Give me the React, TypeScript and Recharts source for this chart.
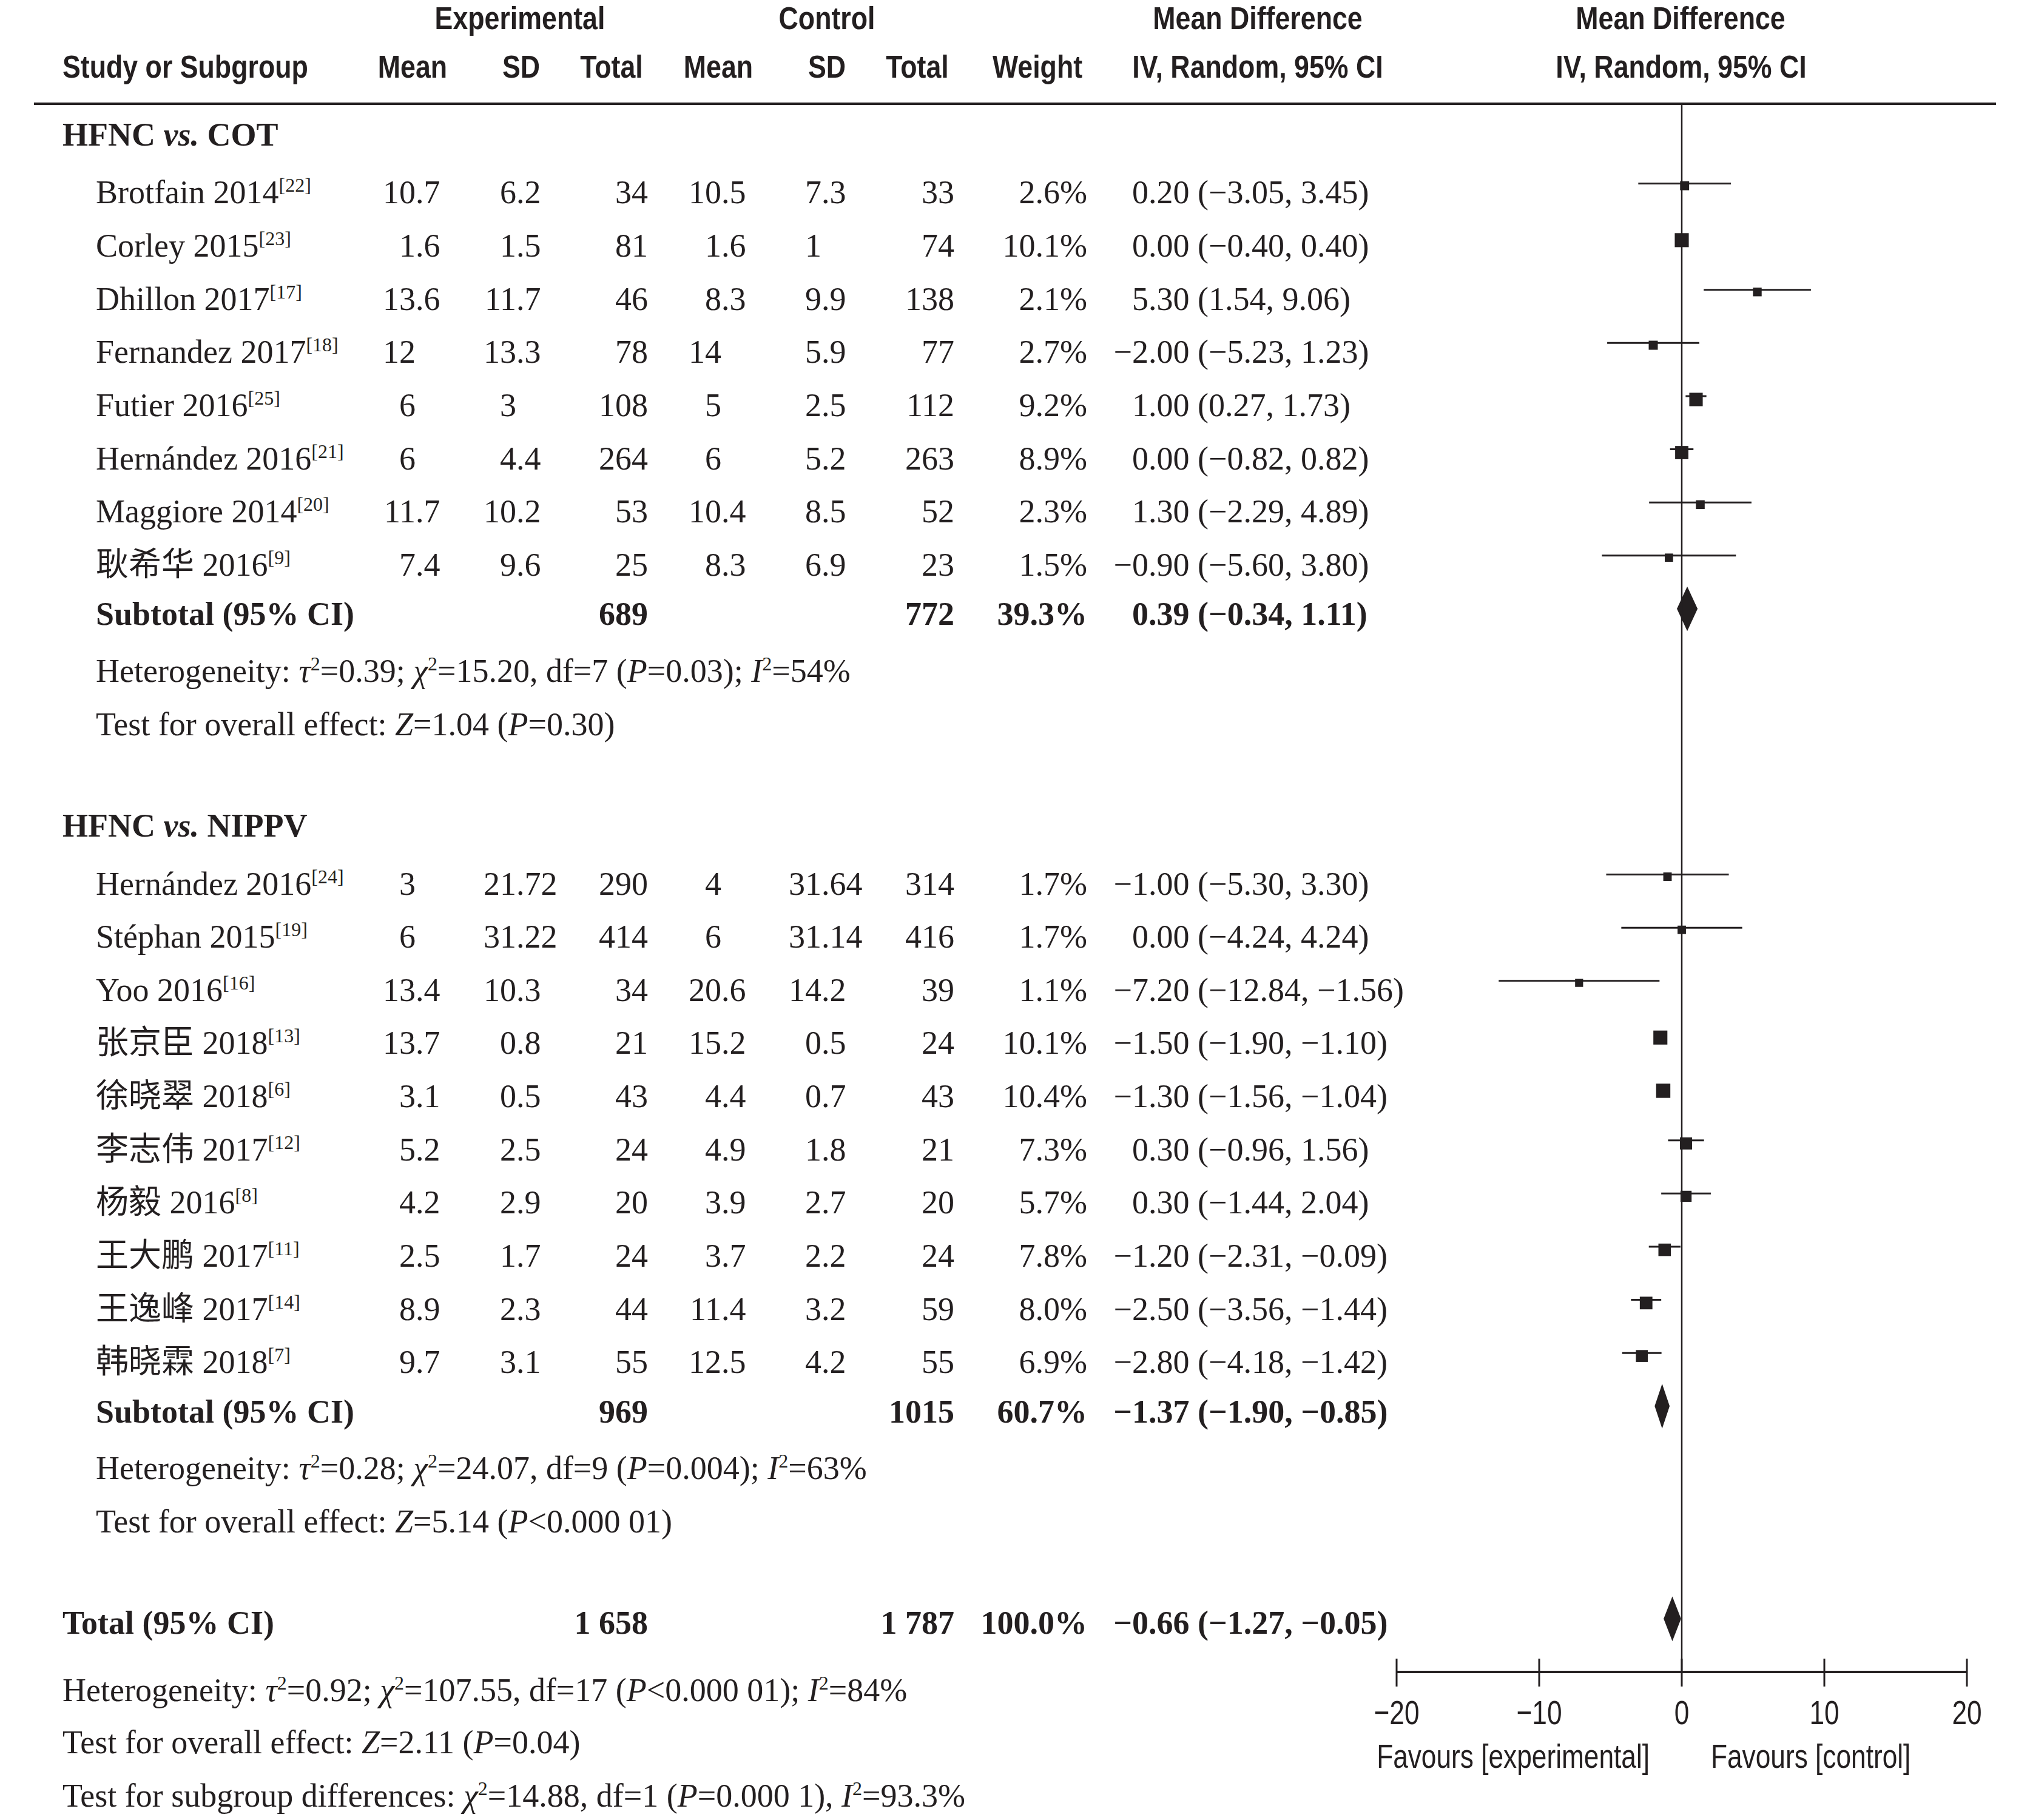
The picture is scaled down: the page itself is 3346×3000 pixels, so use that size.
import React from "react";
import { ComposedChart, Scatter, XAxis, YAxis, ErrorBar, ReferenceLine, ReferenceArea } from "recharts";

// ---- data ----
const subgroupLabels = ["COT", "NIPPV"];
const subgroupSizes = [8, 10];

const studyNames = [
   "Brotfain 2014", "Corley 2015", "Dhillon 2017", "Fernandez 2017", "Futier 2016", "Hernández 2016", "Maggiore 2014", "耿希华 2016",
   "Hernández 2016", "Stéphan 2015", "Yoo 2016", "张京臣 2018", "徐晓翠 2018", "李志伟 2017", "杨毅 2016", "王大鹏 2017", "王逸峰 2017", "韩晓霖 2018",
];
const studyRefs = [22, 23, 17, 18, 25, 21, 20, 9, 24, 19, 16, 13, 6, 12, 8, 11, 14, 7];
const expMean = [10.7, 1.6, 13.6, 12, 6, 6, 11.7, 7.4, 3, 6, 13.4, 13.7, 3.1, 5.2, 4.2, 2.5, 8.9, 9.7];
const expSD = [6.2, 1.5, 11.7, 13.3, 3, 4.4, 10.2, 9.6, 21.72, 31.22, 10.3, 0.8, 0.5, 2.5, 2.9, 1.7, 2.3, 3.1];
const expTotal = [34, 81, 46, 78, 108, 264, 53, 25, 290, 414, 34, 21, 43, 24, 20, 24, 44, 55];
const ctrlMean = [10.5, 1.6, 8.3, 14, 5, 6, 10.4, 8.3, 4, 6, 20.6, 15.2, 4.4, 4.9, 3.9, 3.7, 11.4, 12.5];
const ctrlSD = [7.3, 1, 9.9, 5.9, 2.5, 5.2, 8.5, 6.9, 31.64, 31.14, 14.2, 0.5, 0.7, 1.8, 2.7, 2.2, 3.2, 4.2];
const ctrlTotal = [33, 74, 138, 77, 112, 263, 52, 23, 314, 416, 39, 24, 43, 21, 20, 24, 59, 55];
const weights = [2.6, 10.1, 2.1, 2.7, 9.2, 8.9, 2.3, 1.5, 1.7, 1.7, 1.1, 10.1, 10.4, 7.3, 5.7, 7.8, 8.0, 6.9];
const meanDiff = [0.2, 0, 5.3, -2, 1, 0, 1.3, -0.9, -1, 0, -7.2, -1.5, -1.3, 0.3, 0.3, -1.2, -2.5, -2.8];
const ciLow = [-3.05, -0.4, 1.54, -5.23, 0.27, -0.82, -2.29, -5.6, -5.3, -4.24, -12.84, -1.9, -1.56, -0.96, -1.44, -2.31, -3.56, -4.18];
const ciHigh = [3.45, 0.4, 9.06, 1.23, 1.73, 0.82, 4.89, 3.8, 3.3, 4.24, -1.56, -1.1, -1.04, 1.56, 2.04, -0.09, -1.44, -1.42];

// pooled: [COT subtotal, NIPPV subtotal, overall]
const pooledExpTotal = [689, 969, 1658];
const pooledCtrlTotal = [772, 1015, 1787];
const pooledWeight = [39.3, 60.7, 100];
const pooledMD = [0.39, -1.37, -0.66];
const pooledLow = [-0.34, -1.9, -1.27];
const pooledHigh = [1.11, -0.85, -0.05];

const hetTau2 = ["0.39", "0.28", "0.92"];
const hetChi2 = ["15.20", "24.07", "107.55"];
const hetDf = [7, 9, 17];
const hetP = ["=0.03", "=0.004", "<0.000 01"];
const hetI2 = [54, 63, 84];
const effectZ = ["1.04", "5.14", "2.11"];
const effectP = ["=0.30", "<0.000 01", "=0.04"];
const subDiff = { chi2: "14.88", df: 1, p: "=0.000 1", i2: "93.3" };

const xTicks = [-20, -10, 0, 10, 20];

// ---- styling ----
const INK = "#231f20";
const SERIF = "'Liberation Serif', 'Noto Sans CJK SC', serif";
const SANS = "'Liberation Sans', Arial, sans-serif";
const BODY = 54;
const SUP = 32;
const RAISE = 19;

type Row = { kind: "section" | "study" | "subtotal" | "het" | "test" | "blank" | "total"; g?: number; i?: number };

const rows: Row[] = [];
let si = 0;
subgroupLabels.forEach((_, g) => {
   rows.push({ kind: "section", g });
   for (let k = 0; k < subgroupSizes[g]; k++) rows.push({ kind: "study", i: si++ });
   rows.push({ kind: "subtotal", g });
   rows.push({ kind: "het", g });
   rows.push({ kind: "test", g });
   rows.push({ kind: "blank" });
});
rows.push({ kind: "total", g: 2 });
const rowTicks = rows.map((_, r) => r);

const studyPoints = rows
   .map((row, r) => ({ row, r }))
   .filter((d) => d.row.kind === "study")
   .map(({ row, r }) => {
      const i = row.i as number;
      return { row: r, md: meanDiff[i], err: [meanDiff[i] - ciLow[i], ciHigh[i] - meanDiff[i]], w: weights[i] };
   });

const pooledRows = rows
   .map((row, r) => ({ row, r }))
   .filter((d) => d.row.kind === "subtotal" || d.row.kind === "total")
   .map(({ row, r }) => ({ r, g: row.g as number }));

const minus = (v: number) => (v < 0 ? "−" : "");
const fmt2 = (v: number) => minus(v) + Math.abs(v).toFixed(2);
const grouped = (n: number) => String(n).replace(/\B(?=(\d{3})+(?!\d))/g, " ");

function T({ x, y, anchor = "start", size = BODY, family = SERIF, bold = false, sx = 1, children }: any) {
   return (
      <text
         transform={`translate(${x} ${y}) scale(${sx} 1)`}
         textAnchor={anchor}
         fontSize={size}
         fontFamily={family}
         fontWeight={bold ? "bold" : "normal"}
         fill={INK}
      >
         {children}
      </text>
   );
}

function Dec({ x, y, v }: { x: number; y: number; v: number }) {
   const [a, b] = String(v).split(".");
   return (
      <>
         <T x={x} y={y} anchor="end">{a}</T>
         {b !== undefined && <T x={x} y={y}>.{b}</T>}
      </>
   );
}

function MD({ y, md, lo, hi, bold = false }: any) {
   const txt = fmt2(md) + " (" + fmt2(lo) + ", " + fmt2(hi) + ")";
   const body = md < 0 ? txt.slice(1) : txt;
   return (
      <>
         {md < 0 && <T x={1866} y={y} anchor="end" bold={bold}>−</T>}
         <T x={1866} y={y} bold={bold}>{body}</T>
      </>
   );
}

type Seg = { t: string; it?: boolean; sup?: boolean };

function Segs({ x, y, segs }: { x: number; y: number; segs: Seg[] }) {
   let raised = false;
   return (
      <text x={x} y={y} fontSize={BODY} fontFamily={SERIF} fill={INK}>
         {segs.map((s, k) => {
            let dy = 0;
            if (s.sup && !raised) {
               dy = -RAISE;
               raised = true;
            } else if (!s.sup && raised) {
               dy = RAISE;
               raised = false;
            }
            return (
               <tspan key={k} dy={dy || undefined} fontSize={s.sup ? SUP : undefined} fontStyle={s.it ? "italic" : undefined}>
                  {s.t}
               </tspan>
            );
         })}
      </text>
   );
}

const hetSegs = (g: number): Seg[] => [
   { t: "Heterogeneity: " },
   { t: "τ", it: true },
   { t: "2", sup: true },
   { t: `=${hetTau2[g]}; ` },
   { t: "χ", it: true },
   { t: "2", sup: true },
   { t: `=${hetChi2[g]}, df=${hetDf[g]} (` },
   { t: "P", it: true },
   { t: `${hetP[g]}); ` },
   { t: "I", it: true },
   { t: "2", sup: true },
   { t: `=${hetI2[g]}%` },
];

const effectSegs = (g: number): Seg[] => [
   { t: "Test for overall effect: " },
   { t: "Z", it: true },
   { t: `=${effectZ[g]} (` },
   { t: "P", it: true },
   { t: `${effectP[g]})` },
];

const subDiffSegs: Seg[] = [
   { t: "Test for subgroup differences: " },
   { t: "χ", it: true },
   { t: "2", sup: true },
   { t: `=${subDiff.chi2}, df=${subDiff.df} (` },
   { t: "P", it: true },
   { t: `${subDiff.p}), ` },
   { t: "I", it: true },
   { t: "2", sup: true },
   { t: `=${subDiff.i2}%` },
];

// whole table row, drawn at the y of the row's tick
function RowTick(props: any) {
   const r = props.payload?.value as number;
   const row = rows[r];
   const yb = props.y + 33;
   if (!row) return <g />;
   switch (row.kind) {
      case "section":
         return (
            <text x={103} y={yb - 8} fontSize={BODY} fontFamily={SERIF} fontWeight="bold" fill={INK}>
               HFNC <tspan fontStyle="italic">vs.</tspan> {subgroupLabels[row.g as number]}
            </text>
         );
      case "study": {
         const i = row.i as number;
         return (
            <g>
               <text x={158} y={yb} fontSize={BODY} fontFamily={SERIF} fill={INK}>
                  {studyNames[i]}
                  <tspan dy={-RAISE} fontSize={SUP}>[{studyRefs[i]}]</tspan>
               </text>
               <Dec x={685} y={yb} v={expMean[i]} />
               <Dec x={851} y={yb} v={expSD[i]} />
               <T x={1068} y={yb} anchor="end">{expTotal[i]}</T>
               <Dec x={1189} y={yb} v={ctrlMean[i]} />
               <Dec x={1354} y={yb} v={ctrlSD[i]} />
               <T x={1573} y={yb} anchor="end">{ctrlTotal[i]}</T>
               <T x={1792} y={yb} anchor="end">{weights[i].toFixed(1)}%</T>
               <MD y={yb} md={meanDiff[i]} lo={ciLow[i]} hi={ciHigh[i]} />
            </g>
         );
      }
      case "subtotal":
      case "total": {
         const g = row.g as number;
         const isTotal = row.kind === "total";
         const y = isTotal ? yb - 8 : yb - 6;
         return (
            <g>
               <T x={isTotal ? 103 : 158} y={y} bold>{isTotal ? "Total (95% CI)" : "Subtotal (95% CI)"}</T>
               <T x={1068} y={y} anchor="end" bold>{isTotal ? grouped(pooledExpTotal[g]) : pooledExpTotal[g]}</T>
               <T x={1573} y={y} anchor="end" bold>{isTotal ? grouped(pooledCtrlTotal[g]) : pooledCtrlTotal[g]}</T>
               <T x={1792} y={y} anchor="end" bold>{pooledWeight[g].toFixed(1)}%</T>
               <MD y={y} md={pooledMD[g]} lo={pooledLow[g]} hi={pooledHigh[g]} bold />
            </g>
         );
      }
      case "het":
         return <Segs x={158} y={yb} segs={hetSegs(row.g as number)} />;
      case "test":
         return <Segs x={158} y={yb} segs={effectSegs(row.g as number)} />;
      default:
         return <g />;
   }
}

function AxisTick(props: any) {
   const v = props.payload?.value as number;
   return (
      <g>
         <line x1={props.x} x2={props.x} y1={props.y - 22} y2={props.y + 24} stroke={INK} strokeWidth={3} />
         <T x={props.x} y={props.y + 86} anchor="middle" size={56} family={SANS} sx={0.79}>
            {minus(v) + Math.abs(v)}
         </T>
      </g>
   );
}

function Square(props: any) {
   const w = props.payload?.w ?? props.w ?? 1;
   const s = 12 + 1.1 * w;
   return <rect x={props.cx - s / 2} y={props.cy - s * 0.25} width={s} height={s} fill={INK} />;
}

function Diamond(props: any) {
   const { x, y, width, height } = props;
   const top = Math.min(y, y + height);
   const h = Math.abs(height);
   const cx = x + width / 2;
   const cy = top + h / 2;
   return <polygon points={`${x},${cy} ${cx},${top} ${x + width},${cy} ${cx},${top + h}`} fill={INK} />;
}

const H = (props: any) => <T size={52} family={SANS} bold sx={0.86} {...props} />;

export default function App() {
   return (
      <div style={{ position: "relative", width: 3346, height: 3000, background: "#fff" }}>
         <style>{"body{margin:0}"}</style>
         <ComposedChart width={3346} height={3000} margin={{ top: 171, right: 104, bottom: 44, left: 0 }}>
            <XAxis
               type="number"
               dataKey="md"
               domain={[-20, 20]}
               ticks={xTicks}
               interval={0}
               allowDataOverflow
               height={200}
               tickSize={0}
               tickMargin={0}
               tickLine={false}
               axisLine={{ stroke: INK, strokeWidth: 4 }}
               tick={AxisTick}
            />
            <YAxis
               type="number"
               dataKey="row"
               domain={[-0.5, 29]}
               reversed
               ticks={rowTicks}
               interval={0}
               allowDataOverflow
               width={2302}
               tickSize={0}
               tickMargin={0}
               axisLine={false}
               tickLine={false}
               tick={RowTick}
            />
            <ReferenceLine x={0} stroke={INK} strokeWidth={2.5} />
            {pooledRows.map(({ r, g }) => (
               <ReferenceArea
                  key={r}
                  x1={pooledLow[g]}
                  x2={pooledHigh[g]}
                  y1={r - 0.42}
                  y2={r + 0.42}
                  shape={Diamond}
                  ifOverflow="visible"
               />
            ))}
            <Scatter data={studyPoints} isAnimationActive={false} shape={Square}>
               <ErrorBar dataKey="err" direction="x" width={0} stroke={INK} strokeWidth={3} isAnimationActive={false} />
            </Scatter>
         </ComposedChart>

         <svg width={3346} height={3000} style={{ position: "absolute", left: 0, top: 0, pointerEvents: "none" }}>
            <H x={857} y={48} anchor="middle">Experimental</H>
            <H x={1363} y={48} anchor="middle">Control</H>
            <H x={2073} y={48} anchor="middle">Mean Difference</H>
            <H x={2770} y={48} anchor="middle">Mean Difference</H>
            <H x={103} y={128}>Study or Subgroup</H>
            <H x={680} y={128} anchor="middle">Mean</H>
            <H x={859} y={128} anchor="middle">SD</H>
            <H x={1008} y={128} anchor="middle">Total</H>
            <H x={1184} y={128} anchor="middle">Mean</H>
            <H x={1363} y={128} anchor="middle">SD</H>
            <H x={1512} y={128} anchor="middle">Total</H>
            <H x={1710} y={128} anchor="middle">Weight</H>
            <H x={2073} y={128} anchor="middle">IV, Random, 95% CI</H>
            <H x={2771} y={128} anchor="middle">IV, Random, 95% CI</H>
            <line x1={56} x2={3290} y1={171} y2={171} stroke={INK} strokeWidth={4} />

            <Segs x={103} y={2804} segs={hetSegs(2)} />
            <Segs x={103} y={2890} segs={effectSegs(2)} />
            <Segs x={103} y={2978} segs={subDiffSegs} />

            <T x={2719} y={2914} anchor="end" size={56} family={SANS} sx={0.79}>Favours [experimental]</T>
            <T x={2820} y={2914} size={56} family={SANS} sx={0.79}>Favours [control]</T>
         </svg>
      </div>
   );
}
